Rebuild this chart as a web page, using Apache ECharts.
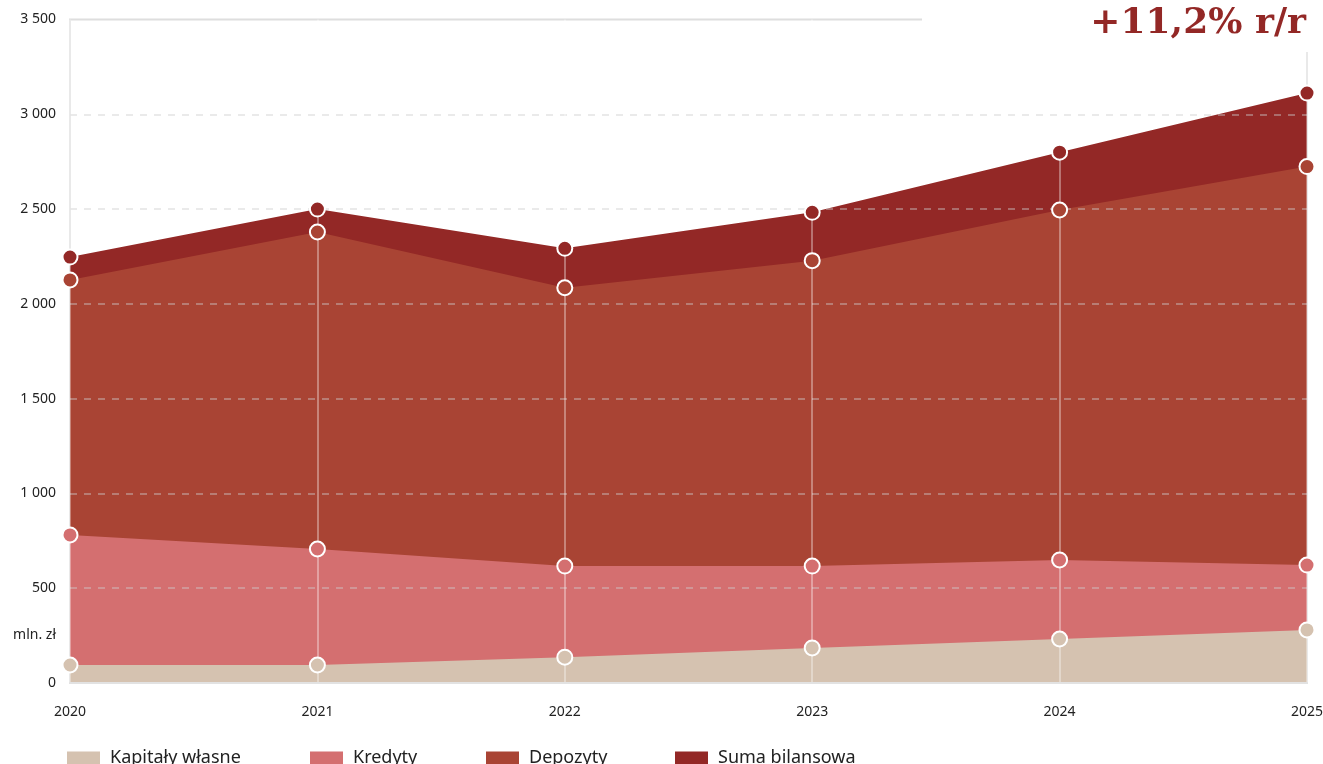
<!DOCTYPE html>
<html>
<head>
<meta charset="utf-8">
<script src="https://cdn.jsdelivr.net/npm/echarts@6/dist/echarts.min.js"></script>
<style>
  html, body { margin: 0; padding: 0; background: #fff; }
  #chart { width: 1323px; height: 764px; }
</style>
</head>
<body>
<div id="chart"></div>
<script>
// Bilans banku, mln zł
const years = ['2020', '2021', '2022', '2023', '2024', '2025'];
const sumaBilansowa = [2247, 2500, 2293, 2483, 2800, 3112];
const depozyty = [2126, 2379, 2085, 2228, 2495, 2724];
const kredyty = [781, 707, 617, 617, 649, 622];
const kapitalyWlasne = [95, 95, 136, 185, 232, 280];
const yTicks = { min: 0, max: 3500, step: 500 };
const headline = '+11,2% r/r';
const unitLabel = 'mln. zł';

const colors = {
  suma: '#932826',
  depozyty: '#a94434',
  kredyty: '#d46f70',
  kapitaly: '#d5c2b0'
};

// draw order: largest area at the back
const layers = [
  { name: 'Suma bilansowa', data: sumaBilansowa, color: colors.suma },
  { name: 'Depozyty', data: depozyty, color: colors.depozyty },
  { name: 'Kredyty', data: kredyty, color: colors.kredyty },
  { name: 'Kapitały własne', data: kapitalyWlasne, color: colors.kapitaly }
];

const font = '"Noto Sans", sans-serif';

const areaSeries = layers.map(l => ({
  name: l.name,
  type: 'line',
  data: l.data,
  z: 1,
  showSymbol: false,
  symbol: 'none',
  lineStyle: { width: 0 },
  itemStyle: { color: l.color },
  areaStyle: { color: l.color, opacity: 1 },
  emphasis: { disabled: true },
  silent: true,
  animation: false
}));

const markerSeries = layers.map(l => ({
  name: l.name,
  type: 'scatter',
  data: l.data,
  z: 5,
  symbol: 'circle',
  symbolSize: 15,
  itemStyle: { color: l.color, borderColor: '#ffffff', borderWidth: 2, opacity: 1 },
  emphasis: { disabled: true },
  silent: true,
  animation: false
}));

const legendLeft = [67, 310, 486, 675];
const legendOrder = ['Kapitały własne', 'Kredyty', 'Depozyty', 'Suma bilansowa'];
const legendColor = {
  'Kapitały własne': colors.kapitaly,
  'Kredyty': colors.kredyty,
  'Depozyty': colors.depozyty,
  'Suma bilansowa': colors.suma
};
const legends = legendOrder.map((name, i) => ({
  left: legendLeft[i],
  top: 749,
  padding: 0,
  itemGap: 0,
  itemWidth: 33,
  itemHeight: 13,
  selectedMode: false,
  data: [{ name: name, icon: 'rect', itemStyle: { color: legendColor[name] } }],
  textStyle: { fontFamily: font, fontSize: 18, color: '#222', padding: [0, 0, 0, 5] }
}));

const chart = echarts.init(document.getElementById('chart'), null, { renderer: 'canvas' });
chart.setOption({
  animation: false,
  backgroundColor: '#ffffff',
  grid: {
    left: 70, right: 16, top: 19.5, bottom: 81,
    outerBoundsMode: 'none',
    containLabel: false,
    show: true,
    borderColor: '#dedede',
    borderWidth: 2,
    backgroundColor: 'transparent'
  },
  legend: legends,
  xAxis: {
    type: 'category',
    data: years,
    boundaryGap: false,
    z: 3,
    axisLine: { show: true, lineStyle: { color: '#e2e2e2', width: 2 } },
    axisTick: { show: false },
    axisLabel: { fontFamily: font, fontSize: 14, color: '#222', margin: 22 },
    splitLine: { show: true, lineStyle: { color: 'rgba(255,255,255,0.35)', width: 2 } }
  },
  yAxis: {
    type: 'value',
    min: yTicks.min,
    max: yTicks.max,
    interval: yTicks.step,
    z: 3,
    axisLine: { show: false },
    axisTick: { show: false },
    axisLabel: {
      fontFamily: font, fontSize: 14, color: '#222', margin: 14,
      formatter: v => String(v).replace(/\B(?=(\d{3})+(?!\d))/g, ' ')
    },
    splitLine: {
      show: true,
      showMinLine: false,
      showMaxLine: false,
      lineStyle: { color: 'rgba(205,205,205,0.42)', width: 2, type: [7, 7] }
    }
  },
  graphic: [
    {
      type: 'rect',
      z: 100,
      shape: { x: 922, y: 0, width: 401, height: 52 },
      style: { fill: '#ffffff' },
      silent: true
    },
    {
      type: 'text',
      z: 101,
      x: 1306,
      y: 42,
      style: {
        text: headline,
        fill: '#932826',
        font: 'bold 36px "DejaVu Serif", serif',
        textAlign: 'right',
        textVerticalAlign: 'bottom'
      },
      silent: true
    },
    {
      type: 'text',
      z: 101,
      x: 56,
      y: 635,
      style: {
        text: unitLabel,
        fill: '#222',
        font: '14px "Noto Sans", sans-serif',
        textAlign: 'right',
        textVerticalAlign: 'middle'
      },
      silent: true
    }
  ],
  series: areaSeries.concat(markerSeries)
});
</script>
</body>
</html>
